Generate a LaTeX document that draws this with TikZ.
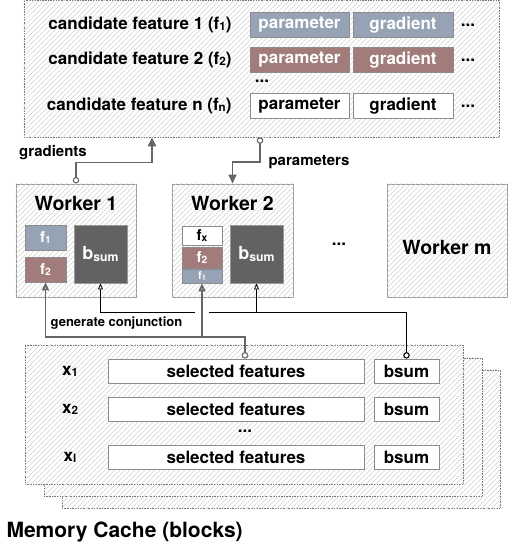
\documentclass[tikz,border=0pt]{standalone}
\usepackage{fontspec}
\setmainfont{TeX Gyre Heros}
\usepackage{graphicx}
\usetikzlibrary{arrows.meta,calc,positioning}
\definecolor{featblue}{HTML}{95A3B4}
\definecolor{featred}{HTML}{A27B7B}
\definecolor{sumgray}{HTML}{626262}
\definecolor{linegray}{HTML}{666666}
\newcommand{\lowsub}[1]{\raisebox{-0.12ex}{\scalebox{0.68}{#1}}}
\newcommand{\fsz}[1]{\fontsize{#1}{#1}\selectfont\bfseries}
\newcommand{\hatchin}[1]{%
  \begin{scope}
    \clip (#1.south west) rectangle (#1.north east);
    \foreach \k in {-560,-555,...,510}
      \draw[hatchline] (\k,560) -- ++(560,-560);
  \end{scope}}

\begin{document}
\begin{tikzpicture}[x=1pt,y=-1pt,
  hatchline/.style={draw=black!17,line width=0.5pt},
  panel/.style={fill=white,draw=black!55,densely dotted,line width=0.6pt,inner sep=0pt},
  worker/.style={fill=white,draw=black!40,line width=1pt,minimum width=120,minimum height=113,inner sep=0pt},
  cell/.style={draw=black!45,line width=0.8pt,minimum height=25,inner sep=0pt,font=\fsz{17}},
  bluecell/.style={cell,fill=featblue,text=white},
  redcell/.style={cell,fill=featred,text=white},
  whitecell/.style={cell,fill=white},
  sumbox/.style={draw=black!40,line width=0.8pt,fill=sumgray,text=white,minimum width=53,minimum height=58,inner sep=0pt,font=\fsz{18}},
  lab/.style={font=\fsz{17}},
  thickflow/.style={draw=linegray,line width=1.9pt},
  thinflow/.style={draw=black,line width=0.8pt},
  openball/.tip={Circle[fill=white,length=6.5pt,line width=1.1pt]},
  bigtri/.tip={Triangle[length=9pt,width=8pt]},
  opentri/.tip={Triangle[fill=white,length=8pt,width=7pt]},
  smalltri/.tip={Triangle[fill=white,length=6pt,width=5pt]}]
  \useasboundingbox (0,0) rectangle (508,546);

  \node[panel,minimum width=475,minimum height=137] (top) at (261.5,68.5) {};
  \hatchin{top}
  \node[lab,anchor=east] (c1) at (235,25) {candidate feature 1 (f\lowsub{1})};
  \node[lab,anchor=east] (c2) at (235,60) {candidate feature 2 (f\lowsub{2})};
  \node[lab,anchor=east] (cn) at (235,106) {candidate feature n (f\lowsub{n})};
  \node[bluecell,minimum width=99] (p1) at (299.5,25) {parameter};
  \node[bluecell,minimum width=100] (g1) at (403,25) {gradient};
  \node[redcell,minimum width=99] (p2) at (299.5,60) {parameter};
  \node[redcell,minimum width=100] (g2) at (403,60) {gradient};
  \node[whitecell,minimum width=99] (pn) at (299.5,106) {parameter};
  \node[whitecell,minimum width=100] (gn) at (403,106) {gradient};
  \node[lab,right=4pt of g1] (d1) {...};
  \node[lab,right=4pt of g2] (d2) {...};
  \node[lab,right=4pt of gn] (dn) {...};
  \node[lab] (dm) at (262,81) {...};

  \node[worker] (w1) at (76,240.5) {};
  \hatchin{w1}
  \node[worker,minimum width=121] (w2) at (232.5,240.5) {};
  \hatchin{w2}
  \node[worker] (wm) at (447,240.5) {};
  \hatchin{wm}
  \node[font=\fsz{19.5}] (t1) at (76,203) {Worker 1};
  \node[font=\fsz{19.5}] (t2) at (232.5,203) {Worker 2};
  \node[font=\fsz{19.5}] (tm) at (447,247) {Worker m};
  \node[lab] (wd) at (339,244) {...};
  \node[bluecell,minimum width=41,font=\fsz{15}] (w1f1) at (45.5,237.5) {f\lowsub{1}};
  \node[redcell,minimum width=41,font=\fsz{15}] (w1f2) at (45.5,269.5) {f\lowsub{2}};
  \node[sumbox] (w1b) at (100.5,254) {b\lowsub{sum}};
  \node[whitecell,minimum width=40,minimum height=19,font=\fsz{15}] (w2fx) at (202,235.5) {f\lowsub{x}};
  \node[redcell,minimum width=40,minimum height=21,font=\fsz{15}] (w2f2) at (202,257.5) {f\lowsub{2}};
  \node[bluecell,minimum width=40,minimum height=14,font=\fsz{11}] (w2f1) at (202,276) {f\lowsub{1}};
  \node[sumbox] (w2b) at (256.5,254) {b\lowsub{sum}};

  \coordinate (gx) at (152,0);
  \coordinate (px) at (260,0);
  \draw[thickflow,openball-bigtri] (w1.north) -- ++(0,-21) -| (top.south -| gx);
  \draw[thickflow,openball-bigtri] (top.south -| px) -- ++(0,25) -| (w2.north);
  \node[font=\fsz{15}] (glab) at (53,153) {gradients};
  \node[font=\fsz{15}] (plab) at (309,162) {parameters};

  \node[panel,minimum width=438,minimum height=138] (mc3) at (281,439) {};
  \hatchin{mc3}
  \node[panel,minimum width=438,minimum height=138] (mc2) at (263,427) {};
  \hatchin{mc2}
  \node[panel,minimum width=438,minimum height=139] (mc1) at (244,414.5) {};
  \hatchin{mc1}
  \node[lab] (x1) at (70,371) {x\lowsub{1}};
  \node[lab] (x2) at (70,409.5) {x\lowsub{2}};
  \node[lab] (xl) at (70,457.5) {x\lowsub{l}};
  \node[whitecell,minimum width=256,minimum height=24] (sf1) at (236,371) {selected features};
  \node[whitecell,minimum width=256,minimum height=24] (sf2) at (236,409.5) {selected features};
  \node[whitecell,minimum width=256,minimum height=24] (sfl) at (236,457.5) {selected features};
  \node[whitecell,minimum width=65,minimum height=24] (mb1) at (406.5,371) {bsum};
  \node[whitecell,minimum width=65,minimum height=24] (mb2) at (406.5,409.5) {bsum};
  \node[whitecell,minimum width=65,minimum height=24] (mbl) at (406.5,457.5) {bsum};
  \node[lab] (md) at (245,431) {...};
  \node[font=\fsz{21},anchor=west] (mcl) at (3,532) {Memory Cache (blocks)};

  \coordinate (gapR) at (209,312);
  \coordinate (gapL) at (195,312);
  \draw[thinflow,openball-] (mb1.north) |- (gapR);
  \draw[thinflow,-smalltri] (gapL) -| (w1b.south);
  \draw[thinflow,-smalltri] (w2b.south |- gapL) -- (w2b.south);
  \draw[thickflow,openball-opentri] ($(sf1.north)+(9,0)$) -- ++(0,-22) -| (w1f2.south);
  \draw[thickflow,-opentri] ($(w2f1.south)+(0,54)$) -- (w2f1.south);
  \node[font=\fsz{13}] (gclab) at (116.5,323) {generate conjunction};
\end{tikzpicture}
\end{document}
